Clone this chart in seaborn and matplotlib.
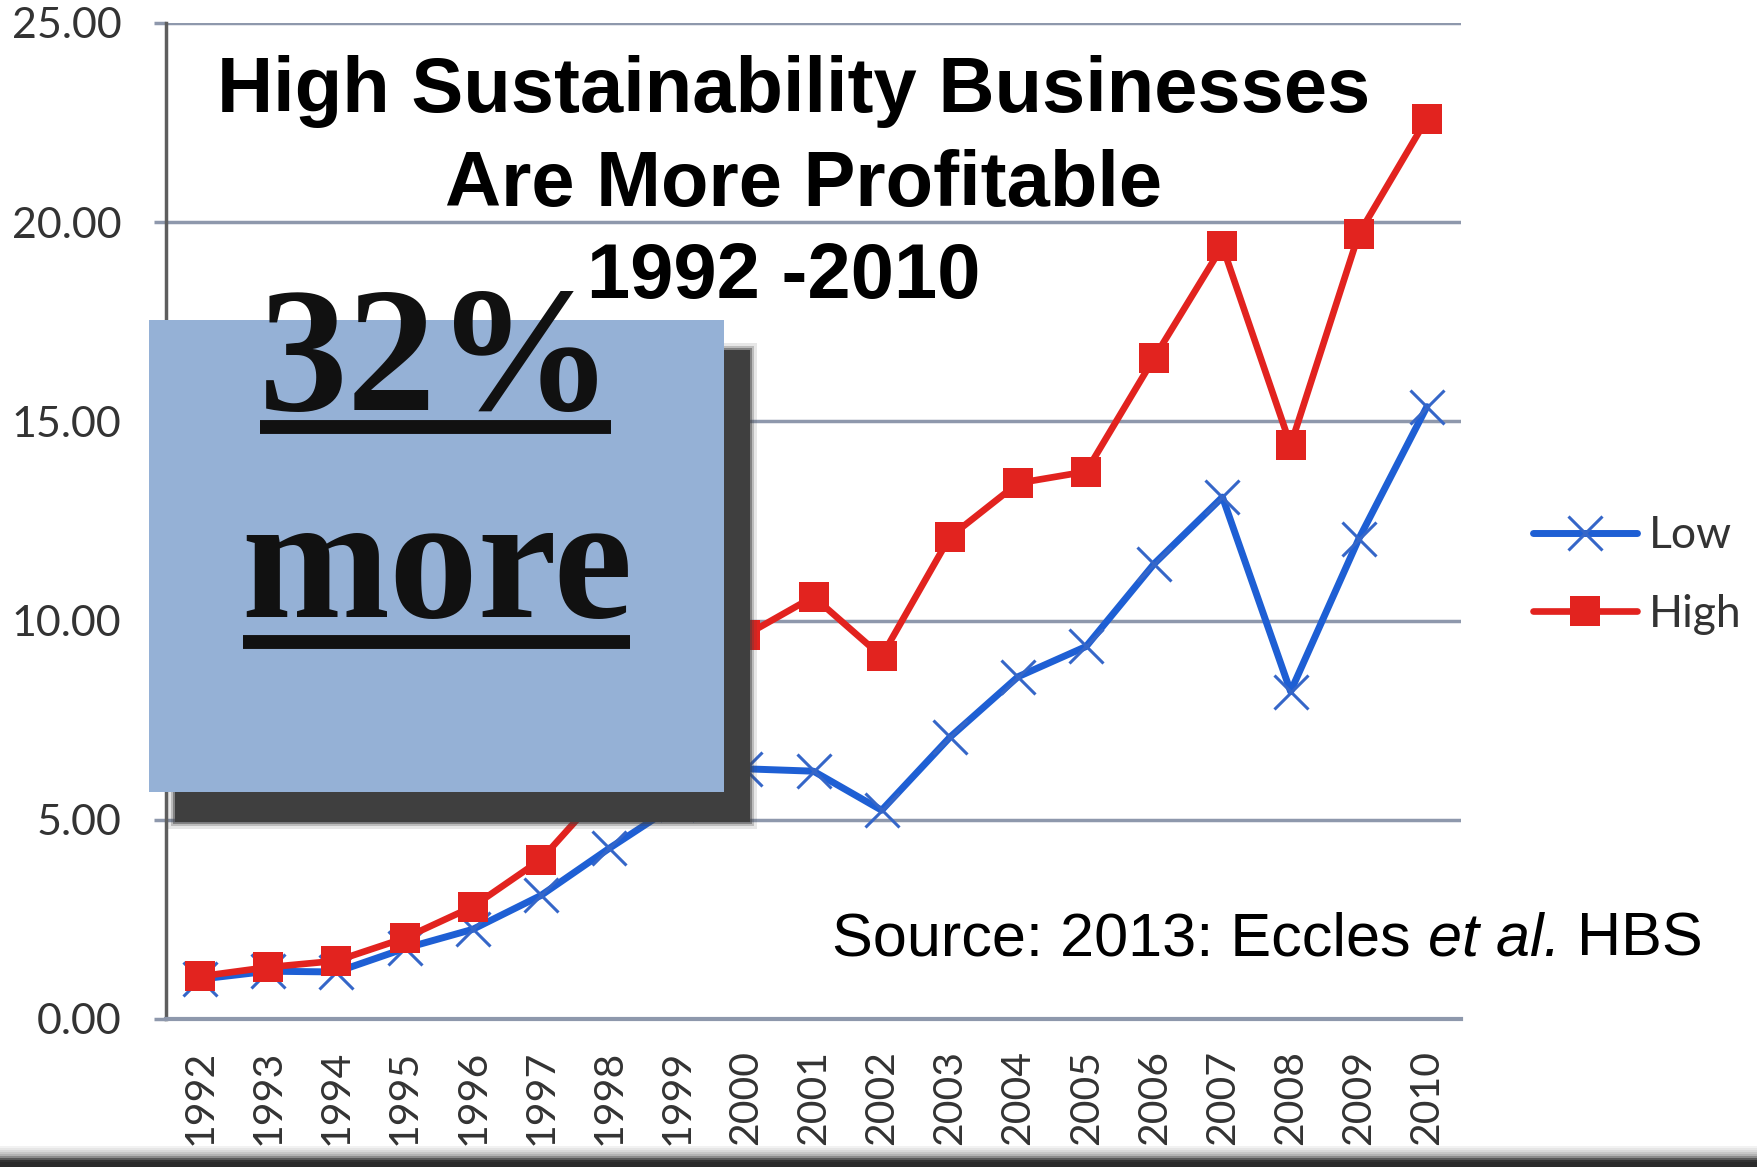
import numpy as np
import pandas as pd
import matplotlib
matplotlib.use("Agg")
import matplotlib.pyplot as plt
import seaborn as sns
from matplotlib.patches import Rectangle
from matplotlib.lines import Line2D

# values (cumulative value of $1 invested)
YEARS = list(range(1992, 2011))
LOW = [1.00, 1.20, 1.18, 1.77, 2.25, 3.10, 4.28, 5.40, 6.28, 6.22, 5.24,
       7.07, 8.59, 9.35, 11.43, 13.10, 8.22, 12.05, 15.37]
HIGH = [1.07, 1.30, 1.46, 2.03, 2.82, 4.00, 5.90, 7.60, 9.63, 10.60, 9.10,
        12.10, 13.45, 13.74, 16.60, 19.40, 14.40, 19.70, 22.60]
Y_TICKS = [0, 5, 10, 15, 20, 25]
SERIES = ["Low", "High"]
TITLE_LINES = ["High Sustainability Businesses", "Are More Profitable", "1992 -2010"]
SOURCE_PARTS = ["Source: 2013: Eccles", " et al.", " HBS"]
CALLOUT = ["32%", "more"]

W, H = 1758, 1167
BLUE = "#1E5FD4"
BLUE_MK = "#3566C8"
RED = "#E2231F"
GRID = "#8E98AC"
BOX = "#95B1D6"
TXT = "#333333"


def fx(px):
    return px / W


def fy(px):
    return 1 - px / H


sns.set_style("white")
plt.rcParams["font.family"] = ["Lato", "DejaVu Sans"]

fig = plt.figure(figsize=(W / 100, H / 100), dpi=100)
ax = fig.add_axes([fx(166), fy(1019), fx(1461) - fx(166), fy(23) - fy(1019)])

df = pd.DataFrame({"year": YEARS * 2, "value": LOW + HIGH,
                   "group": [SERIES[0]] * len(YEARS) + [SERIES[1]] * len(YEARS)})

sns.lineplot(data=df[df.group == "Low"], x="year", y="value", ax=ax, color=BLUE,
             lw=5, marker="x", markersize=25, markeredgewidth=2.2,
             markeredgecolor=BLUE_MK, label="Low", zorder=3)
sns.lineplot(data=df[df.group == "High"], x="year", y="value", ax=ax, color=RED,
             lw=4.8, marker="s", markersize=21, markeredgewidth=0,
             markerfacecolor=RED, markeredgecolor=RED, label="High", zorder=4)

ax.set_xlim(YEARS[0] - 0.5, YEARS[-1] + 0.5)
ax.set_ylim(Y_TICKS[0], Y_TICKS[-1])
ax.set_xlabel("")
ax.set_ylabel("")
ax.set_xticks(YEARS)
ax.set_xticklabels([str(y) for y in YEARS], rotation=90)
ax.set_xticks(np.arange(YEARS[0] - 0.5, YEARS[-1] + 1), minor=True)
ax.set_yticks(Y_TICKS)
ax.set_yticklabels([f"{v:.2f}" for v in Y_TICKS])
ax.tick_params(axis="x", which="major", length=0, pad=22, labelsize=29.5, labelcolor=TXT)
ax.tick_params(axis="x", which="minor", length=11, width=2.5, color=GRID, direction="out")
ax.tick_params(axis="y", length=9, width=2.5, color=GRID, pad=23, labelsize=31,
               labelcolor=TXT, direction="out", left=True)
ax.yaxis.grid(True, color=GRID, lw=2.5)
ax.xaxis.grid(False)
for s in ["top", "right"]:
    ax.spines[s].set_visible(False)
ax.spines["left"].set_color("#5e5e5e")
ax.spines["left"].set_linewidth(2.5)
ax.spines["bottom"].set_color(GRID)
ax.spines["bottom"].set_linewidth(3)

ax.legend(loc="center left", bbox_to_anchor=(fx(1533), fy(575)),
          bbox_transform=fig.transFigure, frameon=False, fontsize=32,
          handlelength=2.35, handletextpad=0.25, labelspacing=0.85,
          borderpad=0, borderaxespad=0, labelcolor=TXT)

# title block
title_pos = [(794, 112), (804, 206), (784, 298)]
for line, (px, py) in zip(TITLE_LINES, title_pos):
    fig.text(fx(px), fy(py), line, ha="center", va="baseline", fontsize=56,
             fontweight="bold", family="Liberation Sans", color="black", zorder=6)

# source line, with "et al." in italics
src = fig.text(fx(832), fy(955), SOURCE_PARTS[0], ha="left", va="baseline",
               fontsize=44, family="Liberation Sans", color="black")
src_it = fig.text(0, 0, SOURCE_PARTS[1], fontsize=44, family="Liberation Sans",
                  style="italic", color="black", ha="left", va="baseline")
fig.canvas.draw()
r = fig.canvas.get_renderer()
bb = src.get_window_extent(r)
src_it.set_position((bb.x1 / fig.bbox.width, fy(955)))
bb2 = src_it.get_window_extent(r)
fig.text(bb2.x1 / fig.bbox.width, fy(955), SOURCE_PARTS[2], ha="left", va="baseline",
         fontsize=44, family="Liberation Sans", color="black")

# callout box with drop shadow
bx, by, bw, bh = 149, 320, 575, 472
for grow, a in [(7, 0.12), (4, 0.25), (2, 0.45), (0, 1.0)]:
    fig.add_artist(Rectangle((fx(bx + 26 - grow), fy(by + 30 + bh + grow)),
                             (bw + 2 * grow) / W, (bh + 2 * grow) / H,
                             transform=fig.transFigure, color="#3f3f3f", alpha=a,
                             lw=0, zorder=8))
fig.add_artist(Rectangle((fx(bx), fy(by + bh)), bw / W, bh / H,
                         transform=fig.transFigure, color=BOX, lw=0, zorder=9))

fig.text(fx(437), fy(410), CALLOUT[0], ha="center", va="baseline", fontsize=128,
         fontweight="bold", family="Liberation Serif", color="#111111", zorder=10)
fig.text(fx(437), fy(617), CALLOUT[1], ha="center", va="baseline", fontsize=128,
         fontweight="bold", family="Liberation Serif", color="#111111", zorder=10)
for x0, x1, yy in [(260, 611, 427), (243, 630, 642)]:
    fig.add_artist(Line2D([fx(x0), fx(x1)], [fy(yy), fy(yy)], transform=fig.transFigure,
                          color="#111111", lw=10, solid_capstyle="butt", zorder=11))

# dark strip at the bottom edge of the screenshot
shades = [0.95, 0.9, 0.85, 0.78, 0.7, 0.55, 0.35, 0.2, 0.17, 0.17, 0.17]
for i, g in enumerate(shades):
    y0 = 1146 + i * 2
    fig.add_artist(Rectangle((0, fy(min(y0 + 2, H))), 1, 2 / H if i < len(shades) - 1 else (H - y0) / H,
                             transform=fig.transFigure, color=str(g), lw=0, zorder=12))

fig.savefig("out.png", dpi=100)
